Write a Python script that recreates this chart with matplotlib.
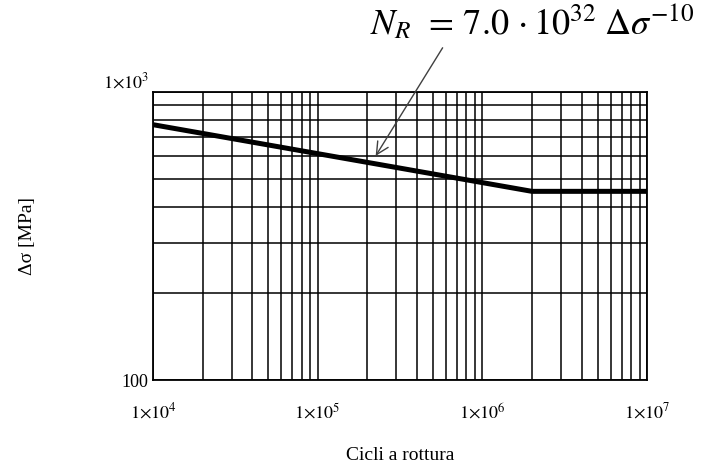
import matplotlib
matplotlib.use("Agg")
import matplotlib.pyplot as plt
from matplotlib.ticker import LogLocator, FixedLocator, FixedFormatter, NullFormatter

# values
cycles = [1e4, 2e6, 1e7]
stress = [770, 452, 452]

x_ticks = [1e4, 1e5, 1e6, 1e7]
x_labels = [r"$1{\times}10^{4}$", r"$1{\times}10^{5}$", r"$1{\times}10^{6}$", r"$1{\times}10^{7}$"]
y_ticks = [100, 1000]
y_labels = ["100", r"$1{\times}10^{3}$"]

arrow_tip = (2.25e5, 600)
equation = r"$N_R\;\, = \,7.0\,\cdot 10^{32}\;\Delta\sigma^{-10}$"

plt.rcParams['font.family'] = ['Liberation Serif', 'DejaVu Serif']
plt.rcParams['mathtext.fontset'] = 'stix'

fig = plt.figure(figsize=(7.08, 4.74), dpi=100)
ax = fig.add_axes([0.216, 0.198, 0.698, 0.608])

ax.plot(cycles, stress, color='black', lw=3.6, solid_capstyle='butt')
ax.set_xscale('log')
ax.set_yscale('log')
ax.set_xlim(1e4, 1e7)
ax.set_ylim(100, 1000)

ax.xaxis.set_major_locator(FixedLocator(x_ticks))
ax.xaxis.set_major_formatter(FixedFormatter(x_labels))
ax.xaxis.set_minor_locator(LogLocator(base=10, subs=range(2, 10)))
ax.xaxis.set_minor_formatter(NullFormatter())
ax.yaxis.set_major_locator(FixedLocator(y_ticks))
ax.yaxis.set_major_formatter(FixedFormatter(y_labels))
ax.yaxis.set_minor_locator(LogLocator(base=10, subs=range(2, 10)))
ax.yaxis.set_minor_formatter(NullFormatter())

ax.grid(True, which='both', color='black', lw=1.1)
ax.set_axisbelow(True)
for s in ax.spines.values():
    s.set_linewidth(1.3)
ax.tick_params(which='both', length=0)
ax.tick_params(axis='x', pad=16, labelsize=13)
ax.tick_params(axis='y', pad=3, labelsize=13)
# top label sits a bit above the frame in the original
ax.get_yticklabels()[1].set_va('bottom')

ax.set_xlabel("Cicli a rottura", fontsize=14, labelpad=18)
ax.set_ylabel("Δσ [MPa]", fontsize=14, labelpad=48)

ax.annotate(equation, xy=arrow_tip, xycoords='data',
            xytext=(0.522, 0.952), textcoords='figure fraction',
            fontsize=26, ha='left', va='center',
            arrowprops=dict(arrowstyle='->', color='#404040', lw=1.0,
                            mutation_scale=22, shrinkA=2, shrinkB=0,
                            relpos=(0.235, 0.0)))

fig.savefig("out.png", dpi=100)
